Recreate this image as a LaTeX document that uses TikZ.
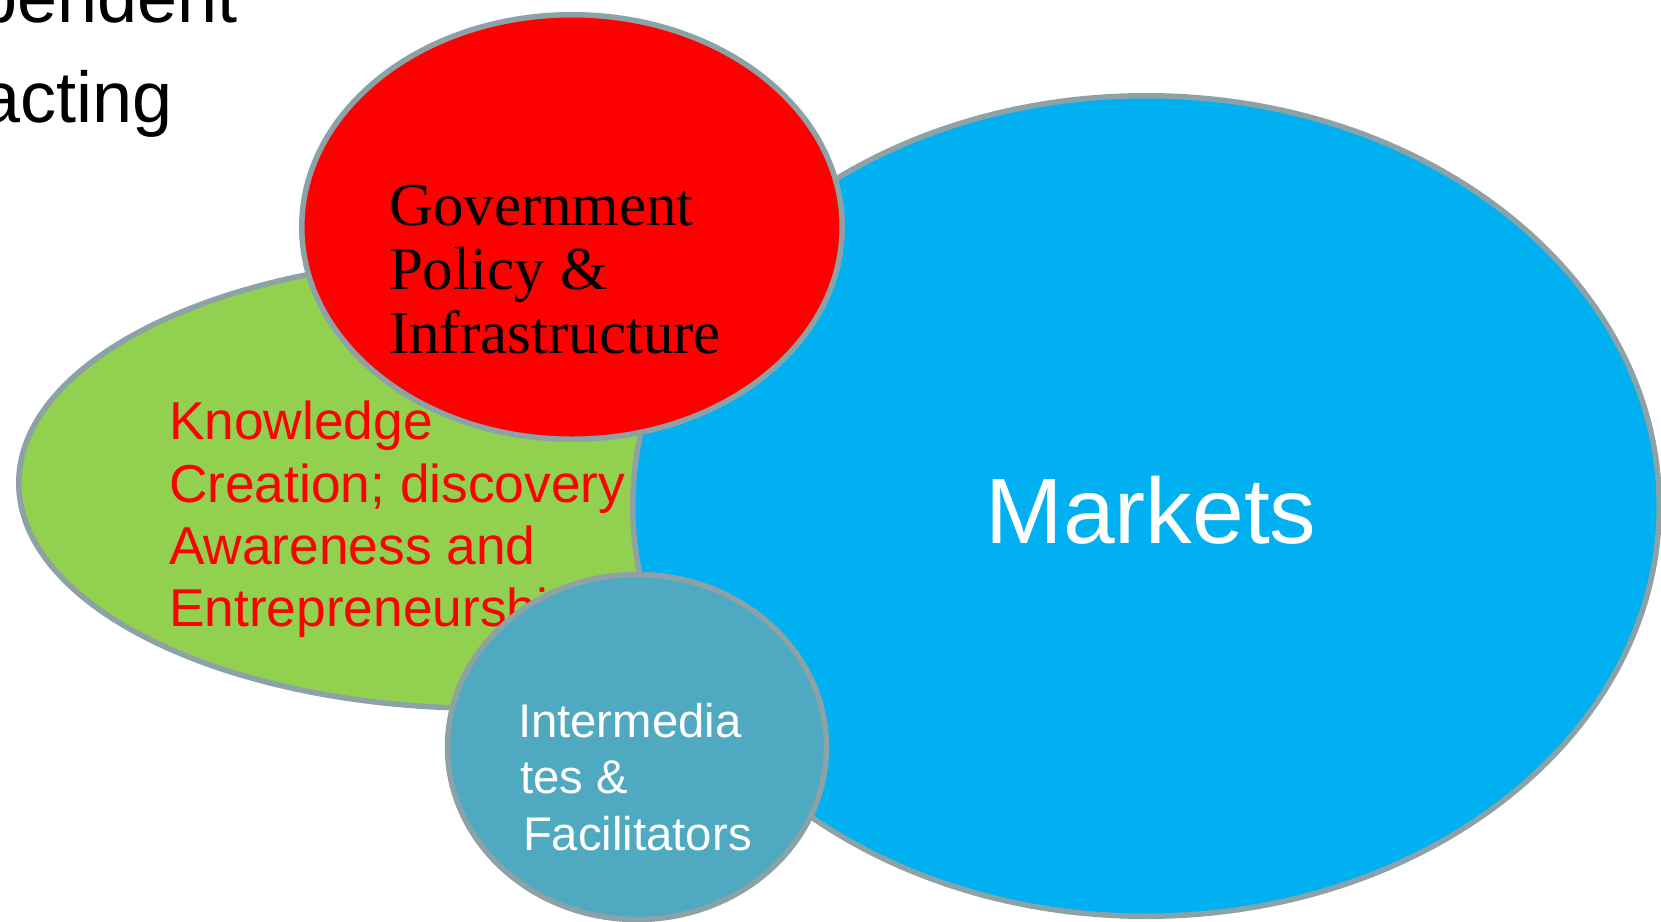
\documentclass[tikz,border=0pt]{standalone}
\usepackage{fontspec}
\setmainfont{Liberation Serif}
\newfontfamily\arial{Liberation Sans}
\usetikzlibrary{shapes.geometric}
\definecolor{outl}{HTML}{8DA2A6}
\definecolor{redf}{HTML}{FF0000}
\definecolor{greenf}{HTML}{92D050}
\definecolor{bluef}{HTML}{00B0F0}
\definecolor{tealf}{HTML}{4FA9C0}
\tikzset{
  blob/.style={ellipse, draw=outl, line width=5.5pt, inner sep=0pt, outer sep=0pt},
  txt/.style={inner sep=0pt, outer sep=0pt, anchor=base west},
  toptxt/.style={inner sep=0pt, outer sep=0pt, anchor=base east, text=black, font=\arial\fontsize{72}{86}\selectfont},
  govtxt/.style={txt, text=black, font=\fontsize{61}{70}\selectfont},
  knowtxt/.style={txt, text=redf, font=\arial\fontsize{53.3}{60}\selectfont},
  inttxt/.style={txt, text=white, font=\arial\fontsize{47.3}{54}\selectfont}
}
\begin{document}
\begin{tikzpicture}[x=1pt,y=-1pt]
\useasboundingbox (0,0) rectangle (1661,921);
\clip (0,0) rectangle (1661,921);
\fill[white] (0,0) rectangle (1661,921);
% top-left partial text
\node[toptxt] (t1) at (238,22) {pendent};
\node[toptxt] (t2) at (173,122) {acting};
% ellipses
\node[blob, fill=greenf, minimum width=932.5pt, minimum height=450.5pt] (knowledge) at (485,483) {};
\node[blob, fill=bluef, minimum width=1026.5pt, minimum height=820.5pt] (markets) at (1146,506) {};
\node[blob, fill=redf, minimum width=540.5pt, minimum height=424.5pt] (gov) at (572,227) {};
% knowledge text
\node[knowtxt] (k1) at (169,439) {Knowledge};
\node[knowtxt] (k2) at (169,502) {Creation; discovery};
\node[knowtxt] (k3) at (169,564) {Awareness and};
\node[knowtxt] (k4) at (169,626) {Entrepreneurship};
% government text
\node[govtxt] (g1) at (389,225) {Government};
\node[govtxt] (g2) at (389,289) {Policy \&};
\node[govtxt] (g3) at (389,353) {Infrastructure};
% markets text
\node[inner sep=0pt, anchor=base, text=white, font=\arial\fontsize{93}{110}\selectfont] (m1) at (1151,543) {Markets};
% intermediates circle
\node[blob, fill=tealf, minimum width=379pt, minimum height=345pt] (inter) at (637,747) {};
\node[inttxt] (i1) at (518,737) {Intermedia};
\node[inttxt] (i2) at (520,793) {tes \&};
\node[inttxt] (i3) at (523,850) {Facilitators};
\end{tikzpicture}
\end{document}
